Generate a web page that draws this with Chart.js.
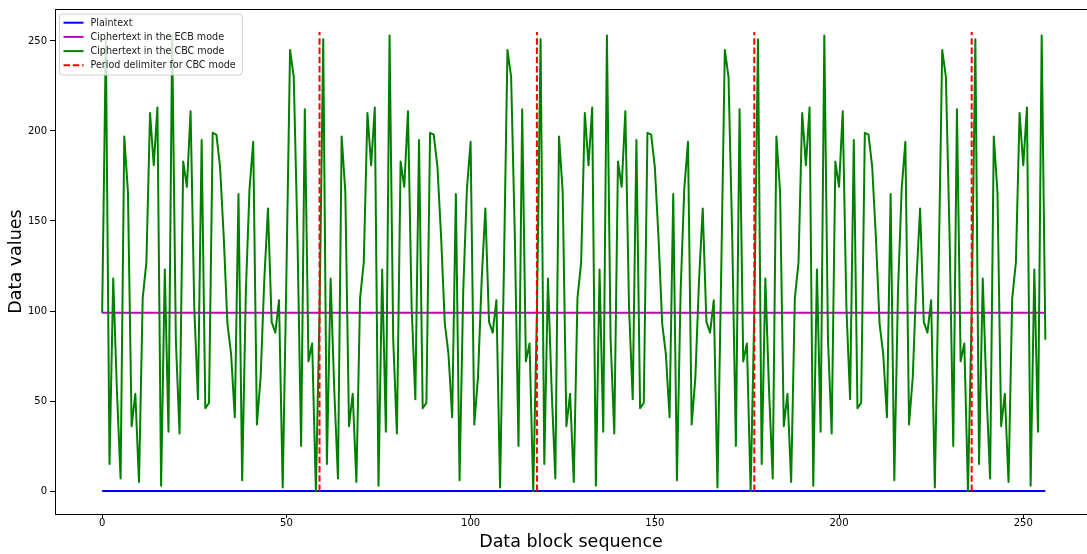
<!DOCTYPE html>
<html>
<head>
<meta charset="utf-8">
<script src="https://cdn.jsdelivr.net/npm/chart.js@4/dist/chart.umd.min.js"></script>
<style>
  html, body { margin: 0; padding: 0; background: #ffffff; }
  #wrap { width: 1087px; height: 554px; position: relative; }
</style>
</head>
<body>
<div id="wrap"><canvas id="c" width="1087" height="554"></canvas></div>
<script>
// ---- data ----
const blockIndex = [
  0,1,2,3,4,5,6,7,8,9,10,11,12,13,14,15,16,17,18,19,
  20,21,22,23,24,25,26,27,28,29,30,31,32,33,34,35,36,37,38,39,
  40,41,42,43,44,45,46,47,48,49,50,51,52,53,54,55,56,57,58,59,
  60,61,62,63,64,65,66,67,68,69,70,71,72,73,74,75,76,77,78,79,
  80,81,82,83,84,85,86,87,88,89,90,91,92,93,94,95,96,97,98,99,
  100,101,102,103,104,105,106,107,108,109,110,111,112,113,114,115,116,117,118,119,
  120,121,122,123,124,125,126,127,128,129,130,131,132,133,134,135,136,137,138,139,
  140,141,142,143,144,145,146,147,148,149,150,151,152,153,154,155,156,157,158,159,
  160,161,162,163,164,165,166,167,168,169,170,171,172,173,174,175,176,177,178,179,
  180,181,182,183,184,185,186,187,188,189,190,191,192,193,194,195,196,197,198,199,
  200,201,202,203,204,205,206,207,208,209,210,211,212,213,214,215,216,217,218,219,
  220,221,222,223,224,225,226,227,228,229,230,231,232,233,234,235,236,237,238,239,
  240,241,242,243,244,245,246,247,248,249,250,251,252,253,254,255,256
];

const plaintextValues = [
  0,0,0,0,0,0,0,0,0,0, 0,0,0,0,0,0,0,0,0,0, 0,0,0,0,0,0,0,0,0,0, 0,0,0,0,0,0,0,0,0,0, 0,0,0,0,0,0,0,0,0,0,
  0,0,0,0,0,0,0,0,0,0, 0,0,0,0,0,0,0,0,0,0, 0,0,0,0,0,0,0,0,0,0, 0,0,0,0,0,0,0,0,0,0, 0,0,0,0,0,0,0,0,0,0,
  0,0,0,0,0,0,0,0,0,0, 0,0,0,0,0,0,0,0,0,0, 0,0,0,0,0,0,0,0,0,0, 0,0,0,0,0,0,0,0,0,0, 0,0,0,0,0,0,0,0,0,0,
  0,0,0,0,0,0,0,0,0,0, 0,0,0,0,0,0,0,0,0,0, 0,0,0,0,0,0,0,0,0,0, 0,0,0,0,0,0,0,0,0,0, 0,0,0,0,0,0,0,0,0,0,
  0,0,0,0,0,0,0,0,0,0, 0,0,0,0,0,0,0,0,0,0, 0,0,0,0,0,0,0,0,0,0, 0,0,0,0,0,0,0,0,0,0, 0,0,0,0,0,0,0,0,0,0,
  0,0,0,0,0,0,0
];

const ecbValues = [
  99,99,99,99,99,99,99,99,99,99, 99,99,99,99,99,99,99,99,99,99, 99,99,99,99,99,99,99,99,99,99, 99,99,99,99,99,99,99,99,99,99, 99,99,99,99,99,99,99,99,99,99,
  99,99,99,99,99,99,99,99,99,99, 99,99,99,99,99,99,99,99,99,99, 99,99,99,99,99,99,99,99,99,99, 99,99,99,99,99,99,99,99,99,99, 99,99,99,99,99,99,99,99,99,99,
  99,99,99,99,99,99,99,99,99,99, 99,99,99,99,99,99,99,99,99,99, 99,99,99,99,99,99,99,99,99,99, 99,99,99,99,99,99,99,99,99,99, 99,99,99,99,99,99,99,99,99,99,
  99,99,99,99,99,99,99,99,99,99, 99,99,99,99,99,99,99,99,99,99, 99,99,99,99,99,99,99,99,99,99, 99,99,99,99,99,99,99,99,99,99, 99,99,99,99,99,99,99,99,99,99,
  99,99,99,99,99,99,99,99,99,99, 99,99,99,99,99,99,99,99,99,99, 99,99,99,99,99,99,99,99,99,99, 99,99,99,99,99,99,99,99,99,99, 99,99,99,99,99,99,99,99,99,99,
  99,99,99,99,99,99,99
];

const cbcValues = [
  99,251,15,118,56,7,197,166,36,54,5,107,127,210,181,213,3,123,33,253,84,32,183,169,211,102,51,195,46,49,199,198,180,141,93,76,41,165,6,111,168,194,37,63,117,157,94,88,106,2,119,245,230,142,25,212,72,82,0,
  99,251,15,118,56,7,197,166,36,54,5,107,127,210,181,213,3,123,33,253,84,32,183,169,211,102,51,195,46,49,199,198,180,141,93,76,41,165,6,111,168,194,37,63,117,157,94,88,106,2,119,245,230,142,25,212,72,82,0,
  99,251,15,118,56,7,197,166,36,54,5,107,127,210,181,213,3,123,33,253,84,32,183,169,211,102,51,195,46,49,199,198,180,141,93,76,41,165,6,111,168,194,37,63,117,157,94,88,106,2,119,245,230,142,25,212,72,82,0,
  99,251,15,118,56,7,197,166,36,54,5,107,127,210,181,213,3,123,33,253,84,32,183,169,211,102,51,195,46,49,199,198,180,141,93,76,41,165,6,111,168,194,37,63,117,157,94,88,106,2,119,245,230,142,25,212,72,82,0,
  99,251,15,118,56,7,197,166,36,54,5,107,127,210,181,213,3,123,33,253,84
];

const delimiterPositions = [59, 118, 177, 236];
const delimiterBottom = 0;
const delimiterTop = 255;

const xTickValues = [0, 50, 100, 150, 200, 250];
const yTickValues = [0, 50, 100, 150, 200, 250];

const seriesLabels = ['Plaintext', 'Ciphertext in the ECB mode', 'Ciphertext in the CBC mode', 'Period delimiter for CBC mode'];

// ---- build datasets ----
const delimiterData = [];
delimiterPositions.forEach(p => {
  delimiterData.push({x: p, y: delimiterBottom});
  delimiterData.push({x: p, y: delimiterTop});
  delimiterData.push({x: p, y: null});
});

const FONT = '"DejaVu Sans", "Liberation Sans", sans-serif';

const frameAndLegend = {
  id: 'frameAndLegend',
  afterDatasetsDraw(chart) {
    const ctx = chart.ctx, a = chart.chartArea;
    ctx.save();
    // top frame line
    ctx.strokeStyle = '#000000';
    ctx.lineWidth = 1;
    ctx.beginPath();
    ctx.moveTo(a.left, a.top + 0.5);
    ctx.lineTo(a.right, a.top + 0.5);
    ctx.stroke();

    // legend (inside the axes, upper left)
    const ds = chart.data.datasets;
    ctx.font = '9.6px ' + FONT;
    let tw = 0;
    ds.forEach(d => { tw = Math.max(tw, ctx.measureText(d.label).width); });
    const bx = a.left + 4.5, by = a.top + 5;
    const rowH = 14.2;
    const bw = 31 + tw + 6.5;
    const bh = 61;
    const r = 3;
    ctx.beginPath();
    ctx.moveTo(bx + r, by);
    ctx.lineTo(bx + bw - r, by);
    ctx.arcTo(bx + bw, by, bx + bw, by + r, r);
    ctx.lineTo(bx + bw, by + bh - r);
    ctx.arcTo(bx + bw, by + bh, bx + bw - r, by + bh, r);
    ctx.lineTo(bx + r, by + bh);
    ctx.arcTo(bx, by + bh, bx, by + bh - r, r);
    ctx.lineTo(bx, by + r);
    ctx.arcTo(bx, by, bx + r, by, r);
    ctx.closePath();
    ctx.fillStyle = 'rgba(255,255,255,0.8)';
    ctx.fill();
    ctx.strokeStyle = '#d0d0d0';
    ctx.lineWidth = 1;
    ctx.stroke();

    ds.forEach((d, i) => {
      const cy = by + 8.7 + i * rowH;
      ctx.beginPath();
      ctx.strokeStyle = d.borderColor;
      ctx.lineWidth = d.borderWidth;
      ctx.setLineDash(d.borderDash || []);
      ctx.moveTo(bx + 4, cy);
      ctx.lineTo(bx + 24, cy);
      ctx.stroke();
      ctx.setLineDash([]);
      ctx.fillStyle = '#1a1a1a';
      ctx.textBaseline = 'middle';
      ctx.textAlign = 'left';
      ctx.fillText(d.label, bx + 31, cy + 0.5);
    });
    ctx.restore();
  }
};

const tickFont = { family: FONT, size: 10 };
const titleFont = { family: FONT, size: 17.5 };

new Chart(document.getElementById('c'), {
  type: 'line',
  data: {
    labels: blockIndex,
    datasets: [
      { label: seriesLabels[0], data: plaintextValues, borderColor: '#0000ff', borderWidth: 2, pointRadius: 0, tension: 0, order: 3, borderJoinStyle: 'round' },
      { label: seriesLabels[1], data: ecbValues, borderColor: '#bf00bf', borderWidth: 2, pointRadius: 0, tension: 0, order: 2, borderJoinStyle: 'round' },
      { label: seriesLabels[2], data: cbcValues, borderColor: '#008000', borderWidth: 2, pointRadius: 0, tension: 0, order: 1, borderJoinStyle: 'round' },
      { label: seriesLabels[3], data: delimiterData, borderColor: '#ff0000', borderWidth: 2, borderDash: [6.5, 2.8], pointRadius: 0, tension: 0, order: 0, spanGaps: false }
    ]
  },
  options: {
    responsive: false,
    animation: false,
    devicePixelRatio: 1,
    layout: { padding: { top: 8, right: 0, left: 0, bottom: 0 } },
    plugins: { legend: { display: false }, tooltip: { enabled: false } },
    scales: {
      x: {
        type: 'linear',
        min: -12.8,
        max: 267.3,
        afterBuildTicks: s => { s.ticks = xTickValues.map(v => ({ value: v })); },
        afterFit: s => { s.height = 40; },
        grid: { display: true, drawOnChartArea: false, drawTicks: true, tickLength: 4, color: '#000000', lineWidth: 1 },
        border: { display: true, color: '#000000', width: 1 },
        ticks: { font: tickFont, color: '#000000', padding: -1, maxRotation: 0, autoSkip: false },
        title: { display: true, text: 'Data block sequence', font: titleFont, color: '#000000', padding: { top: 0, bottom: 1.5 } }
      },
      y: {
        type: 'linear',
        min: -12.75,
        max: 267.75,
        afterBuildTicks: s => { s.ticks = yTickValues.map(v => ({ value: v })); },
        afterFit: s => { s.width = 55; },
        grid: { display: true, drawOnChartArea: false, drawTicks: true, tickLength: 5, color: '#000000', lineWidth: 1 },
        border: { display: true, color: '#000000', width: 1 },
        ticks: { font: tickFont, color: '#000000', padding: 3, autoSkip: false },
        title: { display: true, text: 'Data values', font: titleFont, color: '#000000', padding: { top: 5.5, bottom: 0 } }
      }
    }
  },
  plugins: [frameAndLegend]
});
</script>
</body>
</html>
